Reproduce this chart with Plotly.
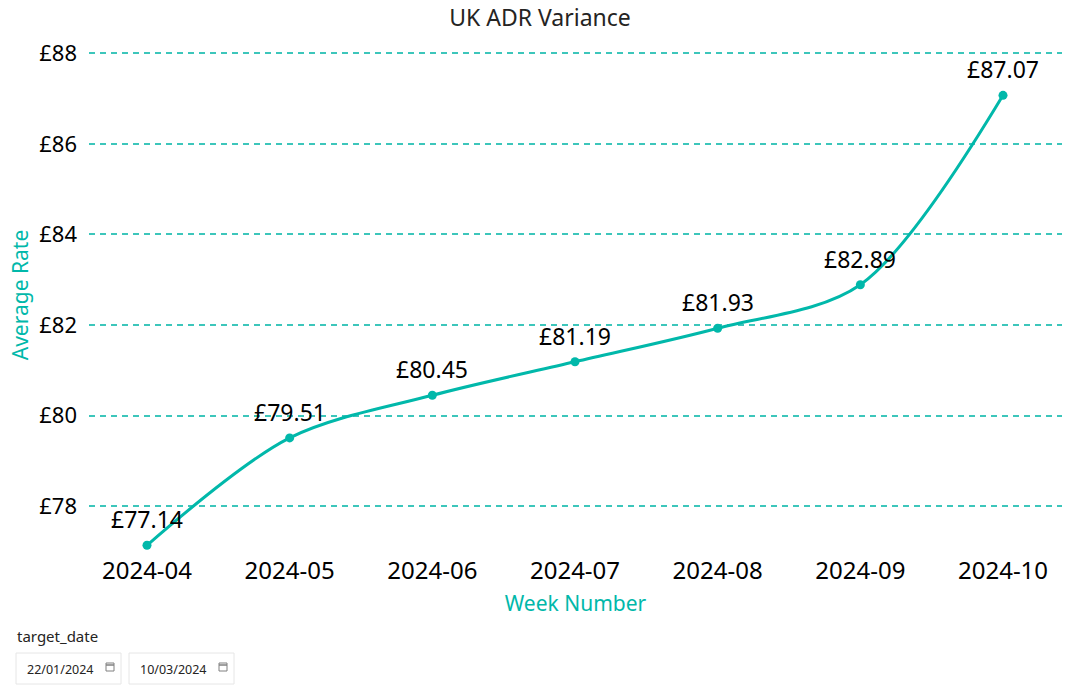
import plotly.graph_objects as go

weeks = ["2024-04", "2024-05", "2024-06", "2024-07", "2024-08", "2024-09", "2024-10"]
avg_rate = [77.14, 79.51, 80.45, 81.19, 81.93, 82.89, 87.07]
y_ticks = [78, 80, 82, 84, 86, 88]
y_tick_labels = ["£78", "£80", "£82", "£84", "£86", "£88"]
slicer_title = "target_date"
slicer_dates = ["22/01/2024", "10/03/2024"]

W, H = 1080, 687
ML, MR, MT, MB = 89, 18, 40, 137
PW, PH = W - ML - MR, H - MT - MB

def px2x(x):
    return (x - ML) / PW

def px2y(y):
    return (H - MB - y) / PH

TEAL = "#01B8AA"
FONT = "Noto Sans"

fig = go.Figure()
fig.add_trace(go.Scatter(
    x=weeks, y=avg_rate,
    mode="lines+markers",
    line=dict(color=TEAL, width=3, shape="spline", smoothing=0.9),
    marker=dict(color=TEAL, size=9),
    cliponaxis=False,
    hoverinfo="x+y",
))

shapes = []
annotations = []

for w, v in zip(weeks, avg_rate):
    annotations.append(dict(
        x=w, y=v, xref="x", yref="y", text=f"£{v:.2f}",
        showarrow=False, yshift=26, xanchor="center", yanchor="middle",
        font=dict(family=FONT, size=23, color="#000000"),
    ))

annotations.append(dict(
    text=slicer_title, xref="paper", yref="paper",
    x=px2x(15), y=px2y(636), xanchor="left", yanchor="middle",
    showarrow=False, font=dict(family=FONT, size=15, color="#252423"),
))
boxes = [(16, 121), (129, 234)]
for (x0, x1), d in zip(boxes, slicer_dates):
    shapes.append(dict(type="rect", xref="paper", yref="paper",
                       x0=px2x(x0), x1=px2x(x1), y0=px2y(653), y1=px2y(684),
                       line=dict(color="#E6E6E6", width=1), fillcolor="white"))
    annotations.append(dict(
        text=d, xref="paper", yref="paper",
        x=px2x(x0 + 9), y=px2y(669), xanchor="left", yanchor="middle",
        showarrow=False, font=dict(family=FONT, size=12.5, color="#252423"),
    ))
    cx0, cx1 = x1 - 15, x1 - 7
    shapes.append(dict(type="rect", xref="paper", yref="paper",
                       x0=px2x(cx0), x1=px2x(cx1), y0=px2y(663), y1=px2y(671),
                       line=dict(color="#808080", width=1), fillcolor="white"))
    shapes.append(dict(type="line", xref="paper", yref="paper",
                       x0=px2x(cx0), x1=px2x(cx1), y0=px2y(665), y1=px2y(665),
                       line=dict(color="#808080", width=1.5)))

fig.update_layout(
    width=W, height=H,
    margin=dict(l=ML, r=MR, t=MT, b=MB),
    paper_bgcolor="white", plot_bgcolor="white",
    showlegend=False,
    title=dict(text="UK ADR Variance", x=0.5, xref="container", xanchor="center",
               y=1 - 18 / H, yref="container", yanchor="middle",
               font=dict(family=FONT, size=23, color="#252423")),
    xaxis=dict(
        type="category", range=[-0.4065, 6.4135],
        showgrid=False, zeroline=False, showline=False, ticks="",
        tickfont=dict(family=FONT, size=24, color="#000000"),
        ticklabelstandoff=4,
        title=dict(text="Week Number", font=dict(family=FONT, size=21, color=TEAL), standoff=11),
    ),
    yaxis=dict(
        range=[77.0355, 88.291],
        tickvals=y_ticks, ticktext=y_tick_labels,
        showgrid=True, gridcolor="#3DC6BB", griddash="6px,5px", gridwidth=1.5,
        zeroline=False, showline=False, ticks="",
        tickfont=dict(family=FONT, size=22, color="#000000"),
        ticklabelstandoff=11,
        title=dict(text="Average Rate", font=dict(family=FONT, size=21, color=TEAL), standoff=4),
    ),
    shapes=shapes,
    annotations=annotations,
)

fig.write_html("out.html", config={"displayModeBar": False},
               post_script="document.body.style.margin='0';")
